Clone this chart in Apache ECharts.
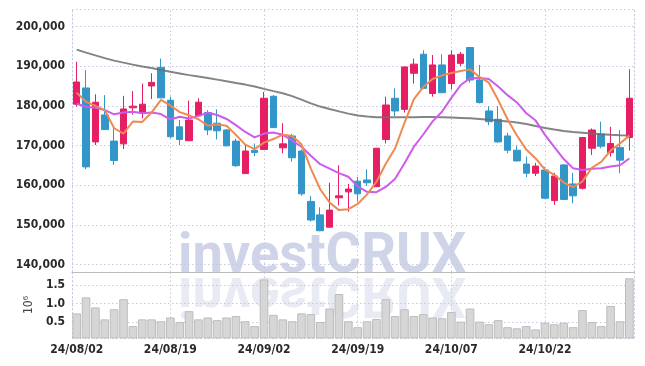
<!DOCTYPE html>
<html><head><meta charset="utf-8">
<script src="https://cdn.jsdelivr.net/npm/echarts@6/dist/echarts.min.js"></script>
<style>html,body{margin:0;padding:0;background:#fff}#c{width:645px;height:366px}</style>
</head><body><div id="c"></div>
<script>
const dates = ['24/08/02','24/08/05','24/08/06','24/08/07','24/08/08','24/08/09','24/08/12','24/08/13','24/08/14','24/08/16',
'24/08/19','24/08/20','24/08/21','24/08/22','24/08/23','24/08/26','24/08/27','24/08/28','24/08/29','24/08/30',
'24/09/02','24/09/03','24/09/04','24/09/05','24/09/06','24/09/09','24/09/10','24/09/11','24/09/12','24/09/13',
'24/09/19','24/09/20','24/09/23','24/09/24','24/09/25','24/09/26','24/09/27','24/09/30','24/10/02','24/10/04',
'24/10/07','24/10/08','24/10/10','24/10/11','24/10/14','24/10/15','24/10/16','24/10/17','24/10/18','24/10/21',
'24/10/22','24/10/23','24/10/24','24/10/25','24/10/28','24/10/29','24/10/30','24/10/31','24/11/01','24/11/04'];
const openP = [180400,184500,170900,177700,171100,170400,179500,178300,185000,189700,
181400,174700,171200,177500,178300,175600,173900,171100,162900,168800,
169000,182400,169400,172400,168600,155900,152500,149400,156800,158300,
161000,161300,159600,171500,181900,179100,188200,193000,183100,190300,
185600,190700,194700,186500,178700,176600,172400,168800,165300,163000,
163800,156100,165100,160300,159200,169300,172900,168200,169500,172000];
const closeP = [186000,164600,180900,174000,166200,179200,179900,180400,185900,182000,
172200,171500,176400,180900,173900,173700,169900,164900,168600,168200,
181900,174500,170400,166900,157800,151200,148500,153700,157300,159000,
157800,160600,169300,180200,178700,189800,190500,184400,190300,183300,
192800,193000,186500,180800,176000,170900,168800,166100,163000,164800,
156700,162300,156400,157300,172000,173900,169800,170500,166300,181900];
const lowP = [179800,164000,170100,173900,165100,169100,177800,176800,181700,181900,
171800,170100,171100,177400,172600,171500,169800,164600,162800,167300,
168900,174400,168000,165900,157300,150800,148400,149300,154900,153300,
155800,159800,159500,170500,177400,178300,185600,184300,182300,183200,
184100,190000,185800,180600,175100,170700,168000,166000,162000,162300,
156500,155000,156200,155400,158900,167600,169300,167200,163000,168700];
const highP = [191100,189000,182900,182700,174600,182500,183700,185600,188200,191900,
182300,176400,181300,181900,178900,179100,174100,171700,170100,170500,
183500,182700,175600,172900,169000,157300,154400,160600,165000,160300,
162100,164000,169400,182300,184400,189900,191900,194000,192800,193000,
194000,193600,194800,190300,179900,179900,173200,169900,167200,165600,
164600,163100,165300,163100,172100,174300,176000,174700,173900,189200];
const ma5 = [183300,181000,180000,178900,174340,172980,176040,175940,178320,181480,
180080,178400,177600,176600,174980,175280,174960,172660,170200,169060,
170700,171620,172720,172380,170300,164160,158960,155620,153700,153940,
155260,157680,160800,165380,169320,175720,181700,184720,186740,187660,
188260,188760,189180,187280,185820,181440,176600,172520,168960,166720,
163880,162580,160640,159500,160940,164380,165880,168700,170500,172480];
const ma10 = [180500,179750,179500,178900,177850,178300,178500,178100,178300,177910,
176530,177220,176770,177460,178230,177680,176680,175130,173400,172020,
172990,173290,172690,171290,169680,167430,165290,164170,163040,162120,
159710,158320,158210,159540,161630,165490,169690,172760,176060,178490,
181990,185230,186950,187010,186740,184850,182680,180850,178120,176270,
172660,169590,166580,164230,163830,164130,164230,164670,165000,166710];
const maLong = [194160,193400,192700,192020,191390,190880,190380,189920,189500,189040,
188560,188160,187730,187360,187030,186600,186170,185770,185340,184840,
184260,183700,183150,182440,181560,180600,179800,179170,178590,178030,
177530,177280,177100,177080,177080,177080,177100,177150,177150,177100,
177050,176950,176830,176650,176470,176270,176070,175770,175390,174890,
174380,174000,173630,173370,173200,173000,172800,172670,172570,172490];
const volume = [0.74,1.17,0.90,0.58,0.85,1.12,0.40,0.58,0.58,0.53,
0.63,0.51,0.80,0.58,0.63,0.56,0.63,0.67,0.53,0.40,
1.65,0.70,0.58,0.53,0.74,0.72,0.51,0.87,1.26,0.53,
0.37,0.53,0.59,1.12,0.67,0.85,0.67,0.72,0.63,0.61,
0.78,0.52,0.87,0.52,0.45,0.56,0.37,0.34,0.40,0.31,
0.49,0.45,0.49,0.37,0.83,0.51,0.40,0.94,0.53,1.68];
const gridDates = [10,20,30,40,50].map(i => dates[i]);

const FONT = "'DejaVu Sans Condensed','DejaVu Sans',sans-serif";
const UP = '#E61E64', DOWN = '#3296C8';
const GRID_LINE = {color:'#c6c9dc', width:1, type:[1.5,2.5]};

const candles = dates.map((d,i) => [openP[i], closeP[i], lowP[i], highP[i]]);

const wmStyle = (fill) => ({x:0, y:-17, text:'investCRUX', fontFamily:'Roboto', fontWeight:'bold', fontSize:56,
  fill:fill, verticalAlign:'middle', align:'left'});

const chart = echarts.init(document.getElementById('c'), null, {renderer:'canvas'});
chart.setOption({
  animation:false,
  backgroundColor:'#fff',
  grid:[
    {left:72, right:11, top:9, height:263},
    {left:72, right:11, top:272, height:66}
  ],
  xAxis:[
    {type:'category', gridIndex:0, data:dates, boundaryGap:true,
     axisLine:{show:true, lineStyle:{color:'#bbbbbb', width:1}}, axisTick:{show:false},
     axisLabel:{show:false}, splitLine:{show:false}},
    {type:'category', gridIndex:1, data:dates, boundaryGap:true,
     axisLine:{show:false}, axisTick:{show:false},
     axisLabel:{show:true, interval:9, color:'#2a2a2a', fontFamily:FONT, fontWeight:'bold', fontSize:12, margin:6},
     splitLine:{show:false}}
  ],
  yAxis:[
    {type:'value', gridIndex:0, min:138100, max:204400, splitNumber:7, scale:true,
     axisLine:{show:true, lineStyle:GRID_LINE}, axisTick:{show:false},
     axisLabel:{color:'#2a2a2a', fontFamily:FONT, fontWeight:'bold', fontSize:12, margin:7, showMinLabel:false, showMaxLabel:false,
       formatter:v => v.toLocaleString('en-US')},
     splitLine:{show:true, lineStyle:GRID_LINE}},
    {type:'value', gridIndex:1, min:0.08, max:1.85, splitNumber:4,
     name:'10⁶', nameLocation:'middle', nameRotate:90, nameGap:36,
     nameTextStyle:{color:'#444', fontFamily:FONT, fontSize:12},
     axisLine:{show:true, lineStyle:GRID_LINE}, axisTick:{show:false},
     axisLabel:{color:'#2a2a2a', fontFamily:FONT, fontWeight:'bold', fontSize:12, margin:7, showMinLabel:false, showMaxLabel:false,
       formatter:v => v.toFixed(1)},
     splitLine:{show:true, lineStyle:GRID_LINE}},
    {type:'value', gridIndex:0, position:'right', min:138100, max:204400,
     axisLine:{show:true, lineStyle:GRID_LINE}, axisTick:{show:false}, axisLabel:{show:false}, splitLine:{show:false}},
    {type:'value', gridIndex:1, position:'right', min:0.08, max:1.85,
     axisLine:{show:true, lineStyle:GRID_LINE}, axisTick:{show:false}, axisLabel:{show:false}, splitLine:{show:false}}
  ],
  graphic:{elements:[
    {type:'text', x:178, y:275, z:0, scaleX:0.97, silent:true, style:wmStyle('rgba(160,170,210,0.5)')},
    {type:'text', x:178, y:275, z:0, scaleX:0.97, scaleY:-1, silent:true, style:wmStyle('rgba(170,180,215,0.27)')}
  ]},
  series:[
    {type:'candlestick', xAxisIndex:0, yAxisIndex:0, data:candles, barWidth:7,
     itemStyle:{color:UP, color0:DOWN, borderColor:UP, borderColor0:DOWN, borderWidth:1},
     markLine:{silent:true, symbol:'none', z:1, label:{show:false}, lineStyle:GRID_LINE,
       data:gridDates.map(d => ({xAxis:d}))}},
    {type:'line', xAxisIndex:0, yAxisIndex:0, data:maLong, symbol:'none', smooth:false,
     lineStyle:{color:'rgba(110,110,110,0.85)', width:2}},
    {type:'line', xAxisIndex:0, yAxisIndex:0, data:ma10, symbol:'none',
     lineStyle:{color:'#CC5CEA', width:2}},
    {type:'line', xAxisIndex:0, yAxisIndex:0, data:ma5, symbol:'none',
     lineStyle:{color:'#EE8A50', width:2}},
    {type:'bar', xAxisIndex:1, yAxisIndex:1, data:volume, barWidth:'92%',
     itemStyle:{color:'#d6d6d6', borderColor:'#bdbdbd', borderWidth:1},
     markLine:{silent:true, symbol:'none', z:1, label:{show:false}, lineStyle:GRID_LINE,
       data:gridDates.map(d => ({xAxis:d}))}}
  ]
});
</script></body></html>
